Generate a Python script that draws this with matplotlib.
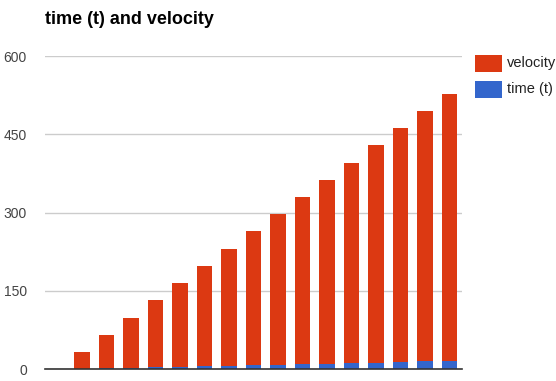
import matplotlib
matplotlib.use("Agg")
import matplotlib.pyplot as plt
from matplotlib.patches import Rectangle

# time in seconds and velocity (ft/s) for a falling object
time_t = [0, 1, 2, 3, 4, 5, 6, 7, 8, 9, 10, 11, 12, 13, 14, 15, 16]
velocity = [0, 32, 64, 96, 128, 160, 192, 224, 256, 288, 320, 352, 384, 416, 448, 480, 512]
y_ticks = [0, 150, 300, 450, 600]
series_names = ["velocity", "time (t)"]

RED = "#DC3912"
BLUE = "#3366CC"

plt.rcParams["font.family"] = ["Liberation Sans", "DejaVu Sans"]

W, H = 556, 381
fig = plt.figure(figsize=(W / 100, H / 100), dpi=100)
ax = fig.add_axes([45 / W, (H - 369.3) / H, (462 - 45) / W, (369.3 - 56) / H])

x = list(range(len(time_t)))
ax.bar(x, time_t, width=0.63, color=BLUE, linewidth=0, zorder=3)
ax.bar(x, velocity, width=0.63, bottom=time_t, color=RED, linewidth=0, zorder=3)

ax.set_xlim(-0.5, len(x) - 0.5)
ax.set_ylim(0, 600)
ax.set_yticks(y_ticks)
ax.set_yticklabels([str(v) for v in y_ticks], fontsize=10, color="#444444")
ax.set_xticks([])
ax.tick_params(axis="y", length=0, pad=13)
ax.yaxis.grid(True, color="#cccccc", linewidth=1)
ax.set_axisbelow(True)
for s in ["top", "right", "left"]:
    ax.spines[s].set_visible(False)
ax.spines["bottom"].set_color("#333333")
ax.spines["bottom"].set_linewidth(1.2)
ax.spines["bottom"].set_zorder(4)
ax.spines["bottom"].set_clip_on(False)

fig.text(45 / W, 1 - 24.5 / H, "time (t) and velocity", fontsize=13,
         fontweight="bold", color="#000000", va="baseline", ha="left")

# legend: colour swatch plus label, one row per series
def px_rect(x0, y0, w, h, color):
    fig.add_artist(Rectangle((x0 / W, 1 - (y0 + h) / H), w / W, h / H,
                             transform=fig.transFigure, facecolor=color,
                             edgecolor="none"))

for i, (name, color) in enumerate(zip(series_names, [RED, BLUE])):
    top = 55 + 26 * i
    px_rect(475, top, 27, 17, color)
    fig.text(507 / W, 1 - (top + 8.5) / H, name, fontsize=10.5,
             color="#222222", va="center", ha="left")

fig.savefig("out.png", dpi=100)
